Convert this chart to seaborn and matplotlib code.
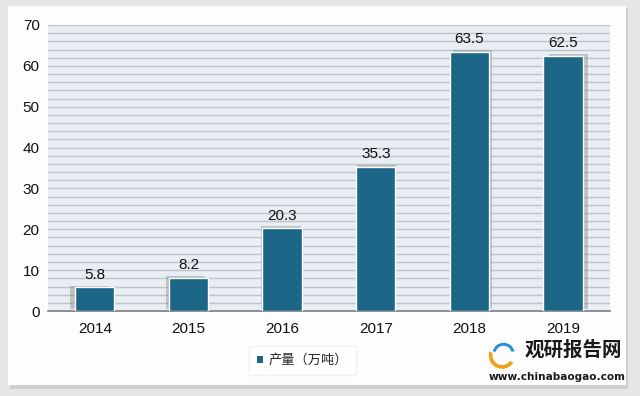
import matplotlib
matplotlib.use("Agg")
import numpy as np
import pandas as pd
import matplotlib.pyplot as plt
import matplotlib.patheffects as pe
from matplotlib.patches import Patch, Rectangle, Wedge
import seaborn as sns

years = ["2014", "2015", "2016", "2017", "2018", "2019"]
output = [5.8, 8.2, 20.3, 35.3, 63.5, 62.5]
series_name = "产量（万吨）"
y_ticks = [0, 10, 20, 30, 40, 50, 60, 70]

BAR = "#1c6688"
PLOT_BG = "#e9eef2"
GRID = "#bcc5cd"

sns.set_theme(style="white")
plt.rcParams["font.family"] = ["Liberation Sans", "Noto Sans CJK SC", "DejaVu Sans"]

df = pd.DataFrame({"year": years, "value": output})

fig = plt.figure(figsize=(6.4, 3.96), dpi=100)
fig.patch.set_facecolor("#e6e6e6")

# white panel with soft shadow
panel_shadow = Rectangle((0.016, 0.018), 0.966, 0.962, transform=fig.transFigure,
                         facecolor="#cfcfcf", edgecolor="none", zorder=-2)
panel = Rectangle((0.012, 0.028), 0.966, 0.958, transform=fig.transFigure,
                  facecolor="#fdfdfd", edgecolor="none", zorder=-1)
fig.patches.extend([panel_shadow, panel])

ax = fig.add_axes([0.075, 0.2146, 0.878, 0.7223])
ax.set_facecolor(PLOT_BG)

sns.barplot(data=df, x="year", y="value", color=BAR, width=0.42, saturation=1,
            edgecolor="white", linewidth=1, ax=ax, zorder=3)

# shadows lean outward from the middle, like the original
n = len(ax.patches)
for i, p in enumerate(ax.patches):
    off = (i - (n - 1) / 2) * 1.5
    p.set_path_effects([pe.SimplePatchShadow(offset=(off, 1.2), shadow_rgbFace="#808080", alpha=0.4),
                        pe.Normal()])

ax.bar_label(ax.containers[0], labels=[f"{v:.1f}" for v in output], padding=4, fontsize=11, color="#111111")

ax.set_ylim(0, 70)
ax.set_yticks(y_ticks)
ax.set_yticks(np.arange(0, 71, 2), minor=True)
ax.yaxis.grid(True, which="both", color=GRID, linewidth=1)
ax.set_axisbelow(True)
ax.tick_params(axis="both", which="both", length=0, labelsize=11, colors="#111111", pad=8)
ax.tick_params(axis="y", pad=6)
ax.set_xlabel("")
ax.set_ylabel("")
for s in ["left", "right", "top"]:
    ax.spines[s].set_visible(False)
ax.spines["bottom"].set_color("#7d7d7d")
ax.spines["bottom"].set_linewidth(1.2)

handle = Patch(facecolor=BAR, edgecolor="none")
leg = fig.legend([handle], [series_name], loc="center", bbox_to_anchor=(0.473, 0.09),
                 frameon=True, fancybox=False, shadow=False, fontsize=9.5,
                 handlelength=0.45, handleheight=0.45, handletextpad=0.4, borderpad=0.6)
leg.get_frame().set_facecolor("white")
leg.get_frame().set_edgecolor("#eeeeee")

# watermark logo
logo_ax = fig.add_axes([0.757, 0.065, 0.055, 0.075])
logo_ax.set_xlim(-1, 1)
logo_ax.set_ylim(-1, 1)
logo_ax.set_aspect("equal")
logo_ax.axis("off")
logo_ax.add_patch(Wedge((0, 0), 0.95, 160, 330, width=0.35, facecolor="#f0a020"))
logo_ax.add_patch(Wedge((0.1, 0.1), 0.8, 10, 170, width=0.3, facecolor="#2c8fd0"))

fig.text(0.82, 0.115, "观研报告网", fontsize=14, fontweight="bold", color="#1a1a1a",
         family=["Noto Sans CJK SC", "DejaVu Sans"], va="center", ha="left")
fig.text(0.763, 0.048, "www.chinabaogao.com", fontsize=7.6, fontweight="bold", color="#1a1a1a",
         family=["DejaVu Sans"], va="center", ha="left")

fig.savefig("out.png", dpi=100, facecolor=fig.get_facecolor())
